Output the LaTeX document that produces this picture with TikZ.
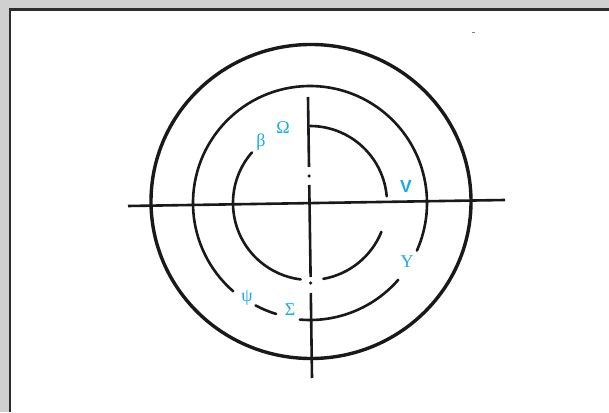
\documentclass[tikz,border=0pt]{standalone}
\usepackage{fontspec}
\newfontfamily\grk{Liberation Serif}
\newfontfamily\sfv{Liberation Sans}
\definecolor{lblcyan}{RGB}{22,172,230}
\definecolor{bggray}{RGB}{208,208,208}
\definecolor{framedark}{RGB}{45,45,45}
\definecolor{inkblack}{RGB}{25,25,25}
\tikzset{
  ring/.style={draw=inkblack,line width=2.6pt,line cap=round},
  outerring/.style={draw=inkblack,line width=3.4pt},
  axisline/.style={draw=inkblack,line width=2.6pt},
  lbl/.style={text=lblcyan,font=\grk\fontsize{18}{18}\selectfont,inner sep=0pt},
  lblsans/.style={text=lblcyan,font=\sfv\bfseries\fontsize{17.5}{17.5}\selectfont,inner sep=0pt},
  speck/.style={draw=gray,line width=0.8pt}
}
\begin{document}
\begin{tikzpicture}[x=1pt,y=1pt]
\useasboundingbox (0,0) rectangle (609,412);
% background and frame
\fill[bggray] (0,0) rectangle (609,412);
\fill[white] (11,0) rectangle (609,401);
\draw[framedark,line width=2.6pt] (10,0) -- (10,402.5) -- (609,402.5);
% centre
\coordinate (C) at (310,209);
% outer ring
\draw[outerring] (311,210.5) ellipse [x radius=160, y radius=157];
% axes
\coordinate (hL) at (128,206);
\coordinate (hR) at (505,212);
\draw[axisline] (hL) -- (hR);
\coordinate (v1a) at (308,315);
\coordinate (v1b) at (309,245);
\coordinate (v2a) at (309.25,227);
\coordinate (v2b) at (310.6,135);
\coordinate (v3a) at (310.8,119);
\coordinate (v3b) at (312,34);
\draw[axisline] (v1a) -- (v1b);
\draw[axisline] (v2a) -- (v2b);
\draw[axisline] (v3a) -- (v3b);
\fill[inkblack] (309.1,236) circle (1.8);
\fill[inkblack] (310.6,129) circle (1.8);
% inner spiral (r = 77)
\draw[ring] ([shift={(C)}]90:77) arc[start angle=90, end angle=5, radius=77];
\draw[ring] ([shift={(C)}]-22:77) arc[start angle=-22, end angle=-80, radius=77];
\draw[ring] ([shift={(C)}]139:77) arc[start angle=139, end angle=263, radius=77];
% middle ring (r = 117)
\draw[ring] ([shift={(C)}]229:117) arc[start angle=229, end angle=-24, radius=117];
\draw[ring] ([shift={(C)}]-41:117) arc[start angle=-41, end angle=-95, radius=117];
\draw[ring] ([shift={(C)}]-118:116) arc[start angle=-118, end angle=-107, radius=116];
% labels
\node[lbl] (omega) at (283,284) {Ω};
\node[lbl] (beta) at (261,270) {β};
\node[lblsans] (vee) at (406,226) {V};
\node[lbl] (upsilon) at (407,150) {Υ};
\node[lbl] (psi) at (247,114) {ψ};
\node[lbl] (sigma) at (290,102) {Σ};
% specks
\draw[speck] (471.5,380) -- (474.5,380);
\end{tikzpicture}
\end{document}
